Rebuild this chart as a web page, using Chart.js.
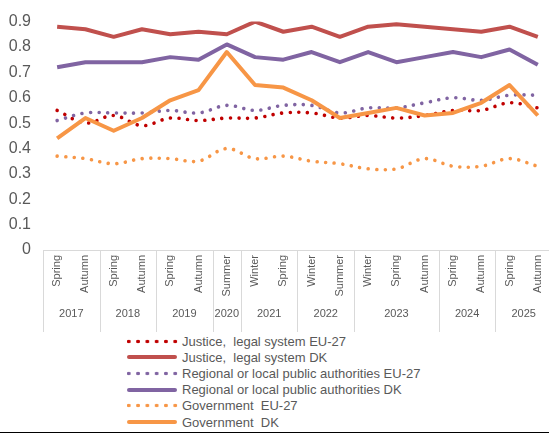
<!DOCTYPE html>
<html>
<head>
<meta charset="utf-8">
<title>Trust in institutions</title>
<script src="https://cdn.jsdelivr.net/npm/chart.js@4/dist/chart.umd.min.js"></script>
<style>
  html, body { margin: 0; padding: 0; background: #fff; }
  body { width: 549px; height: 434px; overflow: hidden; position: relative; font-family: "Liberation Sans", Arial, sans-serif; }
  #chart-wrap { position: absolute; left: 0; top: 0; width: 556px; height: 332px; }
  #legend { position: absolute; left: 127px; top: 333px; color: #595959; font-size: 13px; }
  .legend-row { height: 16.2px; display: flex; align-items: center; white-space: pre; }
  .swatch { width: 52px; margin-right: 3px; flex: none; }
  .swatch.solid { height: 4px; border-radius: 2px; width: 50px; margin-right: 5px; }
  .swatch.dotted { height: 5px; background-size: 9.3px 5px; background-position: -2.9px 0; }
  #bottom-rule { position: absolute; left: 0; right: 0; top: 432px; height: 1px; background: #000; }
</style>
</head>
<body>
<div id="chart-wrap"><canvas id="trustChart"></canvas></div>
<div id="legend"></div>
<div id="bottom-rule"></div>
<script>
const seasons = ["Spring", "Autumn", "Spring", "Autumn", "Spring", "Autumn", "Summer", "Winter", "Spring",
  "Winter", "Summer", "Winter", "Spring", "Autumn", "Spring", "Autumn", "Spring", "Autumn"];
const years = ["2017", "2018", "2019", "2020", "2021", "2022", "2023", "2024", "2025"];
const yearSpans = [2, 2, 2, 1, 2, 2, 3, 2, 2];

const justiceEU = [0.55, 0.50, 0.53, 0.49, 0.52, 0.51, 0.52, 0.52, 0.54, 0.54, 0.52, 0.53, 0.52, 0.53, 0.55, 0.55, 0.58, 0.56];
const justiceDK = [0.88, 0.87, 0.84, 0.87, 0.85, 0.86, 0.85, 0.90, 0.86, 0.88, 0.84, 0.88, 0.89, 0.88, 0.87, 0.86, 0.88, 0.84];
const regionalEU = [0.51, 0.54, 0.54, 0.54, 0.55, 0.54, 0.57, 0.55, 0.57, 0.57, 0.54, 0.56, 0.56, 0.58, 0.60, 0.59, 0.61, 0.61];
const regionalDK = [0.72, 0.74, 0.74, 0.74, 0.76, 0.75, 0.81, 0.76, 0.75, 0.78, 0.74, 0.78, 0.74, 0.76, 0.78, 0.76, 0.79, 0.73];
const governmentEU = [0.37, 0.36, 0.34, 0.36, 0.36, 0.35, 0.40, 0.36, 0.37, 0.35, 0.34, 0.32, 0.32, 0.36, 0.33, 0.33, 0.36, 0.33];
const governmentDK = [0.44, 0.52, 0.47, 0.52, 0.59, 0.63, 0.78, 0.65, 0.64, 0.59, 0.52, 0.54, 0.56, 0.53, 0.54, 0.58, 0.65, 0.53];

const yTicks = [0, 0.1, 0.2, 0.3, 0.4, 0.5, 0.6, 0.7, 0.8, 0.9];

document.addEventListener("DOMContentLoaded", () => {
  const axisGrey = "#d9d9d9";
  const textGrey = "#595959";

  // year group boundaries and centres, in category index units
  const yearBounds = [-0.5];
  const yearCenters = [];
  yearSpans.forEach((span) => {
    const start = yearBounds[yearBounds.length - 1];
    yearCenters.push(start + span / 2);
    yearBounds.push(start + span);
  });

  const series = [
    { label: "Justice,  legal system EU-27", data: justiceEU, color: "#C00000", dotted: true },
    { label: "Justice,  legal system DK", data: justiceDK, color: "#C0504D", dotted: false },
    { label: "Regional or local public authorities EU-27", data: regionalEU, color: "#8064A2", dotted: true },
    { label: "Regional or local public authorities DK", data: regionalDK, color: "#8064A2", dotted: false },
    { label: "Government  EU-27", data: governmentEU, color: "#F79646", dotted: true },
    { label: "Government  DK", data: governmentDK, color: "#F79646", dotted: false },
  ];

  const datasets = series.map((s, i) => ({
    label: s.label,
    data: s.data,
    borderColor: s.color,
    backgroundColor: s.color,
    borderWidth: s.dotted ? 3.6 : 4,
    borderDash: s.dotted ? [0.01, 8.6] : [],
    borderCapStyle: s.dotted ? "round" : "butt",
    borderJoinStyle: "round",
    tension: s.dotted ? 0.35 : 0,
    pointRadius: 0,
    fill: false,
    order: series.length - 1 - i,
  }));

  // vertical separators between the year groups under the axis
  const yearSeparators = {
    id: "yearSeparators",
    afterDraw(chart) {
      const x2 = chart.scales.x2;
      const ctx = chart.ctx;
      ctx.save();
      ctx.strokeStyle = axisGrey;
      ctx.lineWidth = 1;
      yearBounds.forEach((b) => {
        const px = Math.round(x2.getPixelForValue(b)) + 0.5;
        ctx.beginPath();
        ctx.moveTo(px, chart.chartArea.bottom);
        ctx.lineTo(px, x2.bottom);
        ctx.stroke();
      });
      ctx.restore();
    },
  };

  new Chart(document.getElementById("trustChart"), {
    type: "line",
    data: { labels: seasons, datasets: datasets },
    plugins: [yearSeparators],
    options: {
      responsive: true,
      maintainAspectRatio: false,
      animation: false,
      layout: { padding: { top: 18, left: 0, right: 0, bottom: 0 } },
      plugins: { legend: { display: false }, tooltip: { enabled: false } },
      scales: {
        y: {
          min: 0,
          max: 0.9,
          afterBuildTicks: (axis) => { axis.ticks = yTicks.map((v) => ({ value: v })); },
          afterFit: (axis) => { axis.width = 43; },
          grid: { display: false, drawTicks: false },
          border: { display: false },
          ticks: {
            padding: 12,
            color: textGrey,
            font: { family: "Liberation Sans", size: 16 },
            callback: (v) => (v === 0 ? "0" : v.toFixed(1)),
          },
        },
        x: {
          type: "category",
          offset: true,
          afterFit: (axis) => { axis.height = 52; },
          grid: { display: false, drawTicks: false },
          border: { display: true, color: axisGrey, width: 1 },
          ticks: {
            autoSkip: false,
            minRotation: 90,
            maxRotation: 90,
            padding: 5,
            color: textGrey,
            font: { family: "Liberation Sans", size: 11 },
          },
        },
        x2: {
          type: "linear",
          position: "bottom",
          min: -0.5,
          max: seasons.length - 0.5,
          afterBuildTicks: (axis) => { axis.ticks = yearCenters.map((v) => ({ value: v })); },
          afterFit: (axis) => { axis.height = 30; },
          grid: { display: false, drawTicks: false },
          border: { display: false },
          ticks: {
            autoSkip: false,
            maxRotation: 0,
            padding: 5,
            color: textGrey,
            font: { family: "Liberation Sans", size: 11 },
            callback: (v) => years[yearCenters.indexOf(v)],
          },
        },
      },
    },
  });

  // legend, one entry per row
  const legend = document.getElementById("legend");
  legend.innerHTML = series
    .map((s) => {
      const swatch = s.dotted
        ? `<span class="swatch dotted" style="background-image: radial-gradient(circle, ${s.color} 1.6px, transparent 2.1px);"></span>`
        : `<span class="swatch solid" style="background: ${s.color};"></span>`;
      return `<div class="legend-row">${swatch}<span>${s.label}</span></div>`;
    })
    .join("");
});
</script>
</body>
</html>
